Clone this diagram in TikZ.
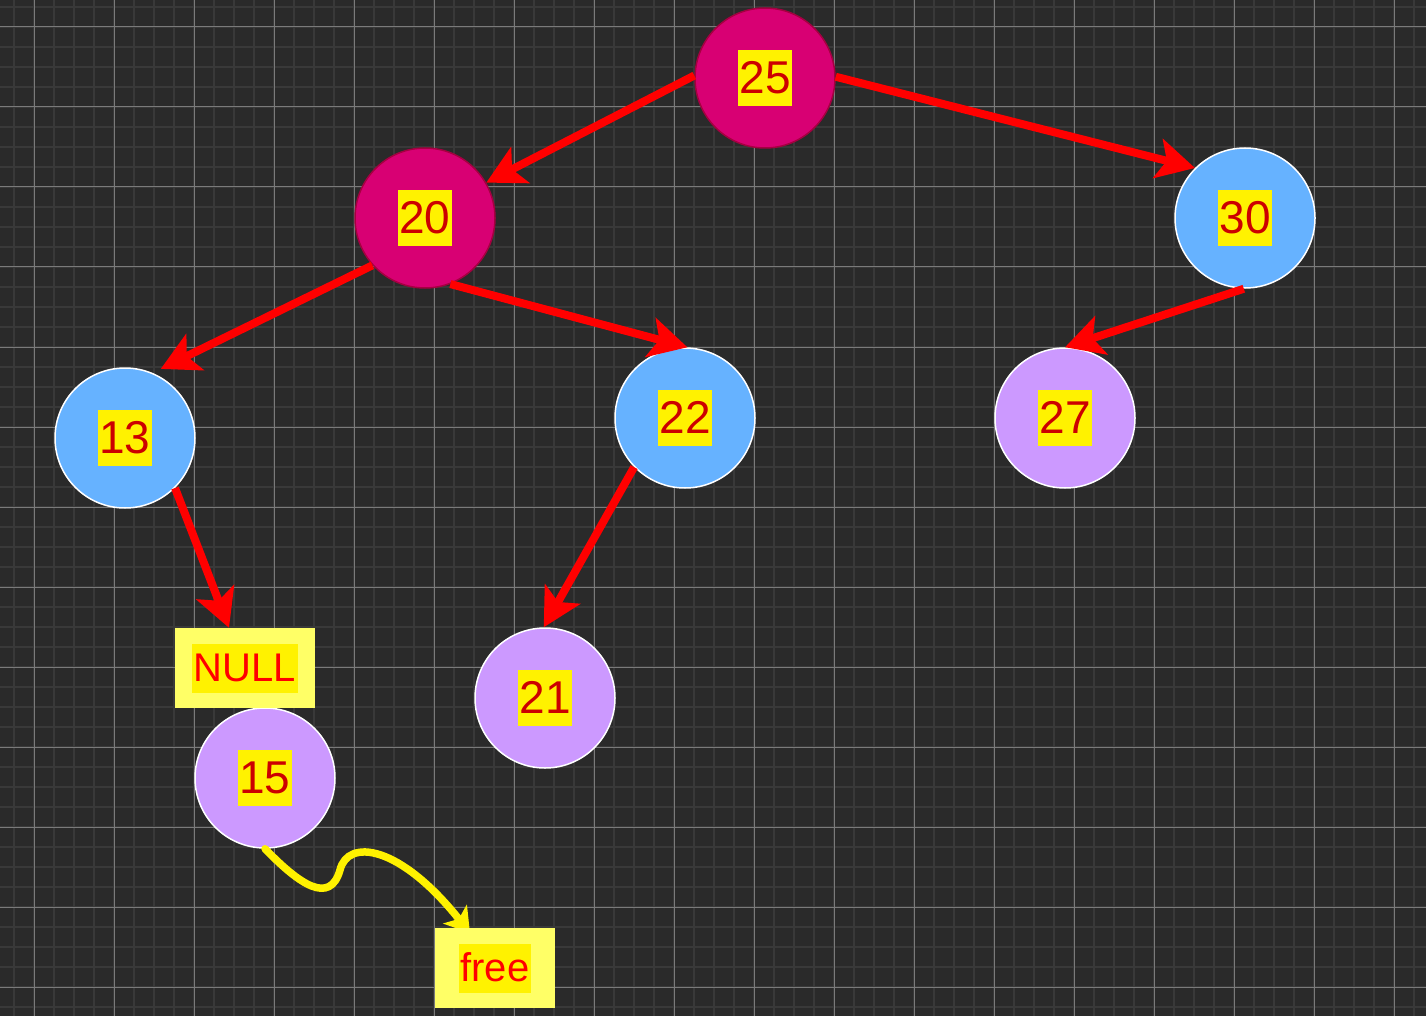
\documentclass[tikz,border=0pt]{standalone}
\usepackage{fontspec}
\setmainfont{Liberation Sans}
\usetikzlibrary{arrows.meta}
\definecolor{bg}{HTML}{2A2A2A}
\definecolor{gridminor}{HTML}{393939}
\definecolor{gridmajor}{HTML}{7A7A7A}
\definecolor{pinkfill}{HTML}{D80073}
\definecolor{pinkline}{HTML}{A50040}
\definecolor{bluefill}{HTML}{66B2FF}
\definecolor{purplefill}{HTML}{CC99FF}
\definecolor{numred}{HTML}{CC0000}
\definecolor{boxyellow}{HTML}{FFFF66}
\newcommand\hlnum[1]{{\setlength{\fboxsep}{1.5pt}\colorbox{yellow}{\rule[-0.24em]{0pt}{1.15em}#1}}}
\begin{document}
\begin{tikzpicture}[x=1pt,y=-1pt,
  treenode/.style={circle, minimum size=140pt, inner sep=0pt, line width=1.5pt,
    font=\fontsize{46}{55}\selectfont, text=numred},
  pinknode/.style={treenode, fill=pinkfill, draw=pinkline},
  bluenode/.style={treenode, fill=bluefill, draw=white},
  purplenode/.style={treenode, fill=purplefill, draw=white},
  labelbox/.style={rectangle, fill=boxyellow, inner sep=0pt,
    font=\fontsize{40}{48}\selectfont, text=red},
  redarrow/.style={draw=red, line width=8pt,
    -{Stealth[length=38pt, width=40pt, inset=9pt]}},
  yellowarrow/.style={draw=yellow, line width=7.5pt, line cap=round,
    -{Stealth[length=24pt, width=30pt, inset=6pt]}},
  minorline/.style={draw=gridminor, line width=2pt},
  majorline/.style={draw=gridmajor, line width=1pt}]
\useasboundingbox (0,0) rectangle (1426,1016);
\fill[bg] (0,0) rectangle (1426,1016);
% grid
\foreach \x in {14,34,...,1426} \draw[minorline] (\x,0) -- (\x,1016);
\foreach \y in {7,27,...,1016} \draw[minorline] (0,\y) -- (1426,\y);
\foreach \x in {34,114,...,1426} \draw[majorline] (\x,0) -- (\x,1016);
\foreach \y in {27,107,...,1016} \draw[majorline] (0,\y) -- (1426,\y);
% nodes
\node[pinknode] (n25) at (765,78) {\hlnum{25}};
\node[pinknode] (n20) at (425,218) {\hlnum{20}};
\node[bluenode] (n30) at (1245,218) {\hlnum{30}};
\node[bluenode] (n13) at (125,438) {\hlnum{13}};
\node[bluenode] (n22) at (685,418) {\hlnum{22}};
\node[purplenode] (n27) at (1065,418) {\hlnum{27}};
\node[purplenode] (n21) at (545,698) {\hlnum{21}};
\node[purplenode] (n15) at (265,778) {\hlnum{15}};
\node[labelbox, minimum width=140pt, minimum height=80pt] (null) at (245,668) {\hlnum{NULL}};
% edges
\draw[redarrow] (n25.178) -- (n20.30);
\draw[redarrow] (n25.1) -- (n30.135);
\draw[redarrow, shorten >=9pt] (n20.222) -- (n13.67);
\draw[redarrow] (n20.291) -- (n22.88);
\draw[redarrow] (n30.269) -- (n27.90);
\draw[redarrow] (n13.-45) -- ([xshift=-16pt]null.north);
\draw[redarrow] (n22.224) -- (n21.91);
% free curve
\coordinate (freetip) at (470,933);
\draw[yellowarrow] (n15.south) .. controls (300,885) and (330,905) .. (340,870)
  .. controls (348,838) and (400,845) .. (freetip);
\node[labelbox, minimum width=120pt, minimum height=80pt] (free) at (495,968) {\hlnum{free}};
\end{tikzpicture}
\end{document}
